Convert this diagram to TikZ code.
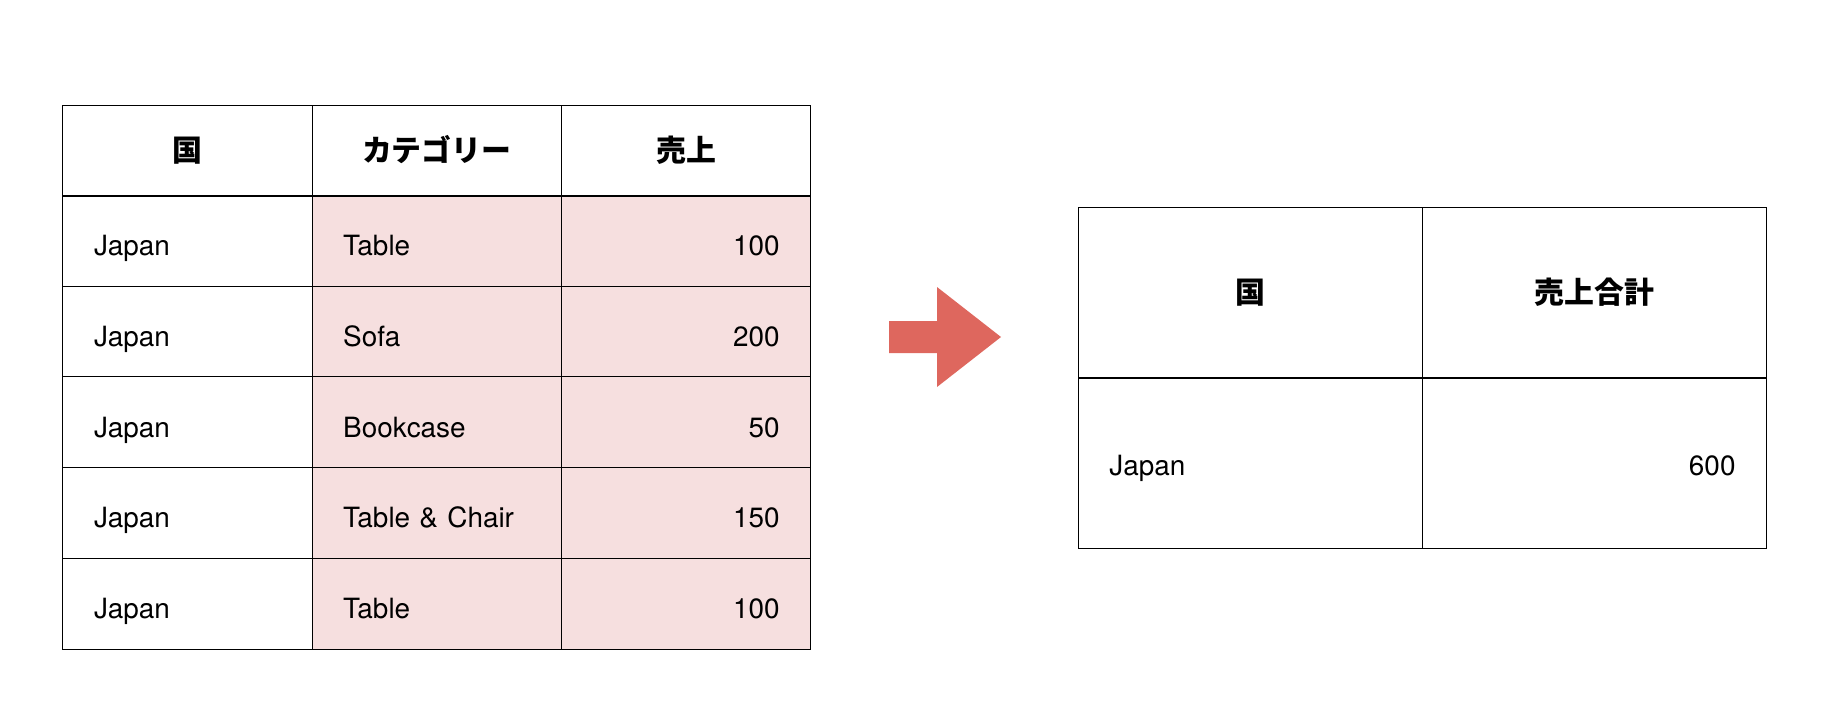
\documentclass[tikz,border=0pt]{standalone}
\usepackage{fontspec}
\setmainfont{TeX Gyre Heros}
\newfontfamily\jpfont{Noto Sans CJK JP}
\definecolor{salesbg}{HTML}{F6DFDF}
\definecolor{arrowred}{HTML}{DE675E}
\tikzset{
  cell/.style={
    draw,
    line width=1bp,
    inner xsep=31bp,
    inner ysep=0pt,
    outer sep=0pt,
    font=\fontsize{28}{34}\selectfont,
    text height=36bp,
    text depth=6bp
  },
  head cell/.style={
    cell,
    align=center,
    font=\fontsize{30}{36}\selectfont\jpfont\bfseries,
    text height=30bp,
    text depth=8bp
  },
  left cell/.style={cell, align=left},
  right cell/.style={cell, align=right},
  small table/.style={text width=187.2bp, minimum height=90.7bp},
  sum table/.style={text width=282bp, minimum height=170.4bp},
}

\begin{document}
\begin{tikzpicture}[x=1bp,y=-1bp]
  \useasboundingbox (0,0) rectangle (1828,728);
  % left table
  \node[head cell, small table, minimum height=90bp] (h1) at (187.6,150.5) {国};
  \node[head cell, small table, minimum height=90bp] (h2) at (436.8,150.5) {カテゴリー};
  \node[head cell, small table, minimum height=90bp] (h3) at (686.0,150.5) {売上};
  \foreach \cat/\amt [count=\i, evaluate=\i as \y using 150.15+90.7*\i] in
    {Table/100, Sofa/200, Bookcase/50, Table \& Chair/150, Table/100}{
    \node[left cell, small table] (c\i) at (187.6,\y) {Japan};
    \node[left cell, small table, fill=salesbg] (k\i) at (436.8,\y) {\cat};
    \node[right cell, small table, fill=salesbg] (s\i) at (686.0,\y) {\amt};
  }
  \draw[line width=2bp] (h1.south west) -- (h3.south east);
  % arrow
  \fill[arrowred] (889,321) -- (937,321) -- (937,287) -- (1001,337)
    -- (937,387) -- (937,353) -- (889,353) -- cycle;
  % right table
  \node[head cell, sum table] (th1) at (1250.4,292.7) {国};
  \node[head cell, sum table] (th2) at (1594.5,292.7) {売上合計};
  \node[left cell, sum table, text height=30bp] (tc1) at (1250.4,463.1) {Japan};
  \node[right cell, sum table, text height=30bp] (ts1) at (1594.5,463.1) {600};
  \draw[line width=2bp] (th1.south west) -- (th2.south east);
\end{tikzpicture}
\end{document}
